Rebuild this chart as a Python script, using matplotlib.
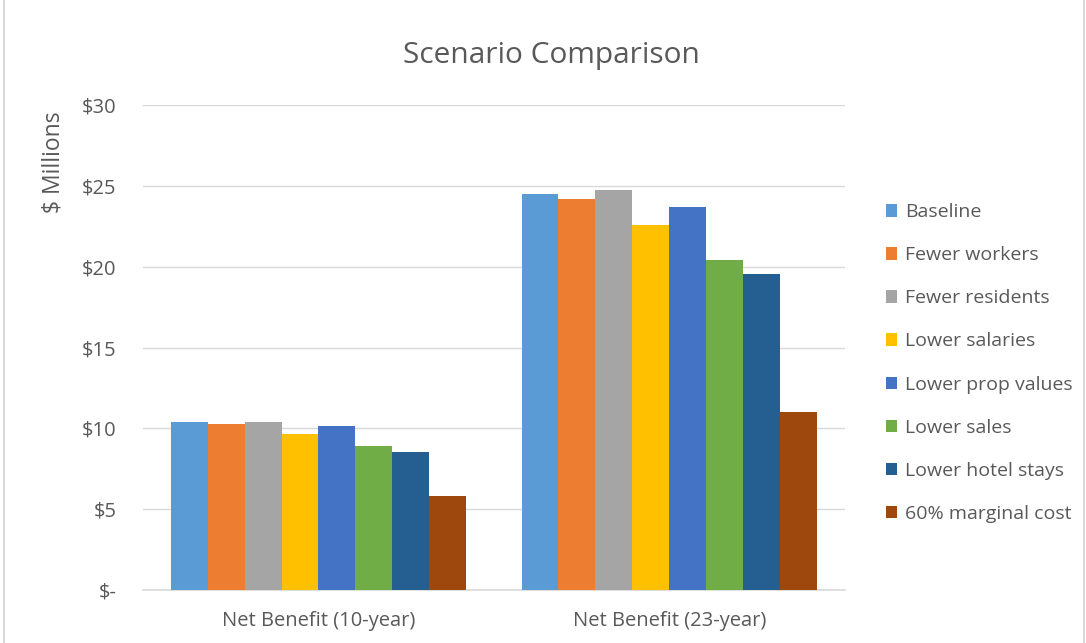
import numpy as np
import matplotlib.pyplot as plt
from matplotlib.patches import Rectangle

# chart data
categories = ["Net Benefit (10-year)", "Net Benefit (23-year)"]
scenarios = ["Baseline", "Fewer workers", "Fewer residents", "Lower salaries",
             "Lower prop values", "Lower sales", "Lower hotel stays", "60% marginal cost"]
values_10yr = [10.4, 10.27, 10.4, 9.67, 10.12, 8.9, 8.53, 5.83]
values_23yr = [24.47, 24.16, 24.76, 22.57, 23.71, 20.41, 19.56, 11.0]
y_ticks = [0, 5, 10, 15, 20, 25, 30]
y_tick_labels = ["$-", "$5", "$10", "$15", "$20", "$25", "$30"]

colors = ["#5B9BD5", "#ED7D31", "#A5A5A5", "#FFC000",
          "#4472C4", "#70AD47", "#255E91", "#9E480E"]

plt.rcParams['font.family'] = ['Open Sans', 'DejaVu Sans']
text_color = "#595959"

fig = plt.figure(figsize=(10.86, 6.43), dpi=100)
ax = fig.add_axes([0.1317, 0.0824, 0.6463, 0.7543])

# outer chart border
fig.patches.append(Rectangle((0.004, -0.01), 0.994, 1.02, transform=fig.transFigure,
                             fill=False, edgecolor="#D9D9D9", linewidth=1.5))

x = np.arange(len(categories))
n = len(scenarios)
bar_w = 0.843 / n
for i, name in enumerate(scenarios):
    offs = (i - (n - 1) / 2) * bar_w
    vals = [values_10yr[i], values_23yr[i]]
    ax.bar(x + offs, vals, width=bar_w, color=colors[i], label=name, zorder=3)

ax.set_xlim(-0.5, 1.5)
ax.set_ylim(0, 30)
ax.set_yticks(y_ticks)
ax.set_yticklabels(y_tick_labels)
ax.set_xticks(x)
ax.set_xticklabels(categories)
ax.tick_params(axis="both", length=0, labelsize=14.5, colors=text_color)
ax.tick_params(axis="y", pad=19)
ax.tick_params(axis="x", pad=15)

ax.grid(axis="y", color="#D9D9D9", linewidth=1, zorder=0)
for s in ["top", "right", "left"]:
    ax.spines[s].set_visible(False)
ax.spines["bottom"].set_color("#D9D9D9")
ax.spines["bottom"].set_linewidth(1.2)

fig.text(0.508, 0.913, "Scenario Comparison", ha="center", va="center",
         fontsize=21.5, color=text_color)
fig.text(0.049, 0.748, "$ Millions", rotation=90, ha="center", va="center",
         fontsize=16.5, color=text_color)

leg = ax.legend(loc="center left", bbox_to_anchor=(1.033, 0.468), frameon=False,
                fontsize=14, handlelength=0.6, handleheight=0.6,
                handletextpad=0.4, labelspacing=1.29, labelcolor=text_color)

fig.savefig("out.png", dpi=100)
